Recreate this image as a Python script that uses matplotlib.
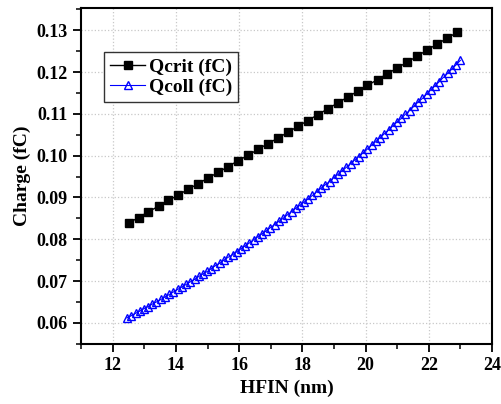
import matplotlib
matplotlib.use("Agg")
import matplotlib.pyplot as plt
from matplotlib.ticker import MultipleLocator, FormatStrFormatter

# Critical charge vs. fin height
hfin_crit = [12.50, 12.82, 13.13, 13.45, 13.76, 14.08, 14.39, 14.71, 15.02, 15.34,
             15.65, 15.97, 16.28, 16.60, 16.91, 17.23, 17.54, 17.86, 18.17, 18.49,
             18.80, 19.12, 19.43, 19.75, 20.06, 20.38, 20.69, 21.01, 21.32, 21.64,
             21.95, 22.27, 22.58, 22.90]
qcrit = [0.0839, 0.0852, 0.0866, 0.0879, 0.0893, 0.0906, 0.0920, 0.0933, 0.0947, 0.0960,
         0.0974, 0.0988, 0.1001, 0.1015, 0.1029, 0.1042, 0.1056, 0.1070, 0.1084, 0.1098,
         0.1112, 0.1126, 0.1140, 0.1154, 0.1168, 0.1182, 0.1196, 0.1210, 0.1224, 0.1238,
         0.1253, 0.1267, 0.1281, 0.1295]

# Collected charge vs. fin height
hfin_coll = [12.45, 12.58, 12.72, 12.85, 12.98, 13.12, 13.25, 13.38, 13.52, 13.65,
             13.79, 13.92, 14.05, 14.19, 14.32, 14.45, 14.59, 14.72, 14.85, 14.99,
             15.12, 15.25, 15.39, 15.52, 15.65, 15.79, 15.92, 16.05, 16.19, 16.32,
             16.46, 16.59, 16.72, 16.86, 16.99, 17.12, 17.26, 17.39, 17.52, 17.66,
             17.79, 17.92, 18.06, 18.19, 18.32, 18.46, 18.59, 18.72, 18.86, 18.99,
             19.13, 19.26, 19.39, 19.53, 19.66, 19.79, 19.93, 20.06, 20.19, 20.33,
             20.46, 20.59, 20.73, 20.86, 20.99, 21.13, 21.26, 21.39, 21.53, 21.66,
             21.80, 21.93, 22.06, 22.20, 22.33, 22.46, 22.60, 22.73, 22.86, 23.00]
qcoll = [0.0612, 0.0617, 0.0623, 0.0628, 0.0634, 0.0639, 0.0645, 0.0650, 0.0656, 0.0662,
         0.0668, 0.0674, 0.0680, 0.0686, 0.0692, 0.0698, 0.0704, 0.0711, 0.0717, 0.0723,
         0.0730, 0.0737, 0.0743, 0.0750, 0.0757, 0.0763, 0.0770, 0.0777, 0.0784, 0.0791,
         0.0799, 0.0806, 0.0813, 0.0820, 0.0828, 0.0835, 0.0843, 0.0850, 0.0858, 0.0866,
         0.0874, 0.0881, 0.0889, 0.0897, 0.0905, 0.0914, 0.0922, 0.0930, 0.0938, 0.0947,
         0.0955, 0.0964, 0.0972, 0.0981, 0.0990, 0.0998, 0.1007, 0.1016, 0.1025, 0.1034,
         0.1043, 0.1052, 0.1061, 0.1071, 0.1080, 0.1089, 0.1099, 0.1108, 0.1118, 0.1128,
         0.1137, 0.1147, 0.1157, 0.1167, 0.1177, 0.1187, 0.1197, 0.1207, 0.1217, 0.1228]

plt.rcParams["font.family"] = ["Liberation Serif", "DejaVu Serif"]
plt.rcParams["font.weight"] = "bold"

fig = plt.figure(figsize=(5.01, 4.04), dpi=100)
ax = fig.add_axes([0.162, 0.149, 0.820, 0.831])

ax.plot(hfin_crit, qcrit, color="black", lw=1.0, marker="s", ms=6,
        label="Qcrit (fC)")
ax.plot(hfin_coll, qcoll, color="blue", lw=0.8, marker="^", ms=5.5,
        mfc="none", mec="blue", mew=1.0, label="Qcoll (fC)")

ax.set_xlim(11, 24)
ax.set_ylim(0.055, 0.1353)
ax.xaxis.set_major_locator(MultipleLocator(2))
ax.xaxis.set_minor_locator(MultipleLocator(1))
ax.yaxis.set_major_locator(MultipleLocator(0.01))
ax.yaxis.set_minor_locator(MultipleLocator(0.005))
ax.yaxis.set_major_formatter(FormatStrFormatter("%.2f"))

ax.grid(True, which="major", color="#c8c8c8", ls=":", lw=0.9)
ax.set_axisbelow(True)

for s in ax.spines.values():
    s.set_linewidth(1.5)
ax.tick_params(which="major", direction="out", length=6, width=1.3,
               labelsize=13)
ax.tick_params(which="minor", direction="out", length=3.5, width=1.1)

ax.set_xlabel("HFIN (nm)", fontsize=14, fontweight="bold")
ax.set_ylabel("Charge (fC)", fontsize=14, fontweight="bold")

leg = ax.legend(loc="upper left", bbox_to_anchor=(0.056, 0.869),
                borderaxespad=0, fancybox=False, framealpha=1,
                prop={"size": 14, "weight": "bold"}, handlelength=1.8,
                handletextpad=0.2, labelspacing=0.15, borderpad=0.3)
leg.get_frame().set_edgecolor("#333333")
leg.get_frame().set_linewidth(1.0)

fig.savefig("out.png", dpi=100)
